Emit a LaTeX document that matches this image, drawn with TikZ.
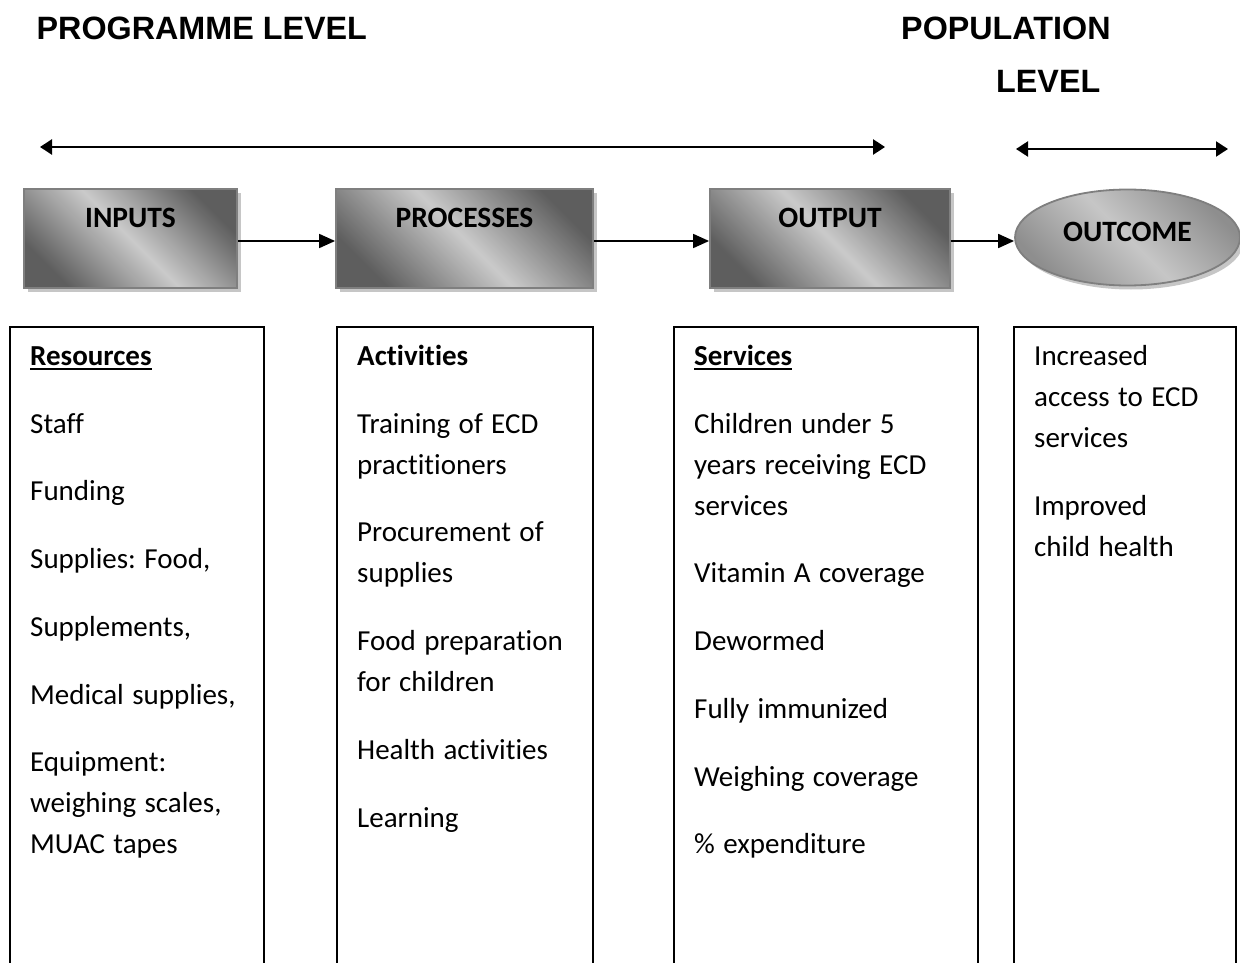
\documentclass[tikz,border=0pt]{standalone}
\usepackage{fontspec}
\setmainfont{Carlito}[Ligatures=NoCommon]
\newfontfamily\headfont{Liberation Sans}
\usetikzlibrary{arrows.meta,shapes.geometric}

\definecolor{shadegray}{HTML}{5E5E5E}
\definecolor{palegray}{HTML}{CACACA}
\definecolor{rimgray}{HTML}{7F7F7F}
\definecolor{shadowgray}{HTML}{C6C6C6}
\definecolor{ovaldark}{HTML}{8E8E8E}
\definecolor{ovallight}{HTML}{C6C6C6}

% body text: 41pt leading and Word-like interword spaces
\newcommand\bodysize{\fontsize{29}{41}\selectfont
  \spaceskip=8.4pt plus 2pt minus 1pt\relax
  \xspaceskip=8.4pt plus 2pt minus 1pt\relax}
% underlined heading word with a Word-like rule just under the baseline
\newcommand\ulword[1]{\leavevmode\setbox0\hbox{#1}\rlap{\rule[-4.5pt]{\wd0}{1.8pt}}\box0}

\begin{document}
\begin{tikzpicture}[x=1pt,y=-1pt,
  title/.style={font=\headfont\bfseries\fontsize{32.3}{38}\selectfont,
    anchor=base west, inner sep=0pt},
  levelarrow/.style={line width=2.8pt,
    {Triangle[length=12pt,width=15pt]}-{Triangle[length=12pt,width=15pt]}},
  conn/.style={line width=1.8pt, -{Triangle[length=16pt,width=14pt]}},
  boxshadow/.style={preaction={fill=shadowgray,
    transform canvas={xshift=3.5pt,yshift=-4pt}}},
  stagebox/.style={rectangle, boxshadow, draw=rimgray, line width=1.8pt,
    top color=shadegray, bottom color=shadegray, middle color=palegray,
    shading angle=-45, minimum height=99pt, inner sep=0pt,
    font=\bfseries\fontsize{29.5}{35}\selectfont,
    text height=20pt, text depth=43pt},
  outcomeoval/.style={ellipse, boxshadow, draw=rimgray, line width=1.8pt,
    top color=ovaldark, bottom color=ovaldark, middle color=ovallight,
    shading angle=-45, minimum width=225pt, minimum height=96pt,
    inner sep=0pt, font=\bfseries\fontsize{29.5}{35}\selectfont,
    text height=19pt, text depth=12pt},
  colframe/.style={rectangle, draw=black, line width=2pt, anchor=north west,
    inner sep=0pt, minimum height=700pt},
  coltext/.style={anchor=base west, inner sep=0pt, align=left,
    text width=260pt,
    execute at begin node={\bodysize\setlength{\parskip}{26.7pt}}}
]
\useasboundingbox (0,0) rectangle (1240,963);
\clip (0,0) rectangle (1240,963);

% level headings
\node[title] (prog) at (36.5,39.5) {PROGRAMME LEVEL};
\node[title] (pop) at (901,39.5) {POPULATION};
\node[title] (poplevel) at (996,93) {LEVEL};

% extent of each level
\coordinate (progL) at (40,147);
\coordinate (progR) at (885,147);
\coordinate (popL) at (1016,149);
\coordinate (popR) at (1228,149);
\draw[levelarrow] (progL) -- (progR);
\draw[levelarrow, line width=2.2pt] (popL) -- (popR);

% stages of the results chain
\node[stagebox, minimum width=213pt] (inputs) at (130.5,238.5) {INPUTS};
\node[stagebox, minimum width=257pt] (processes) at (464.5,238.5) {PROCESSES};
\node[stagebox, minimum width=240pt] (output) at (830,238.5) {OUTPUT};
\node[outcomeoval] (outcome) at (1127.5,237.5) {OUTCOME};

\draw[conn] ([yshift=-2.5pt]inputs.east) -- ([yshift=-2.5pt]processes.west);
\draw[conn] ([yshift=-2.5pt]processes.east) -- ([yshift=-2.5pt]output.west);
\draw[conn] ([yshift=-2.5pt]output.east) -- ([yshift=-3.5pt]outcome.west);

% columns of indicators
\node[colframe, minimum width=254pt] (col1) at (9,326) {};
\node[colframe, minimum width=256pt] (col2) at (336,326) {};
\node[colframe, minimum width=304pt] (col3) at (673,326) {};
\node[colframe, minimum width=222pt] (col4) at (1013,326) {};

\node[coltext] (txt1) at ([xshift=21pt,yshift=-39.5pt]col1.north west)
  {\ulword{\bfseries Resources}\par
   Staff\par
   Funding\par
   Supplies: Food,\par
   Supplements,\par
   Medical supplies,\par
   Equipment:\\ weighing scales,\\ MUAC tapes};

\node[coltext] (txt2) at ([xshift=21pt,yshift=-39.5pt]col2.north west)
  {\textbf{Activities}\par
   Training of ECD\\ practitioners\par
   Procurement of\\ supplies\par
   Food preparation\\ for children\par
   Health activities\par
   Learning};

\node[coltext] (txt3) at ([xshift=21pt,yshift=-39.5pt]col3.north west)
  {\ulword{\bfseries Services}\par
   Children under 5\\ years receiving ECD\\ services\par
   Vitamin A coverage\par
   Dewormed\par
   Fully immunized\par
   Weighing coverage\par
   \% expenditure};

\node[coltext] (txt4) at ([xshift=21pt,yshift=-39.5pt]col4.north west)
  {Increased\\ access to ECD\\ services\par
   Improved\\ child health};
\end{tikzpicture}
\end{document}
